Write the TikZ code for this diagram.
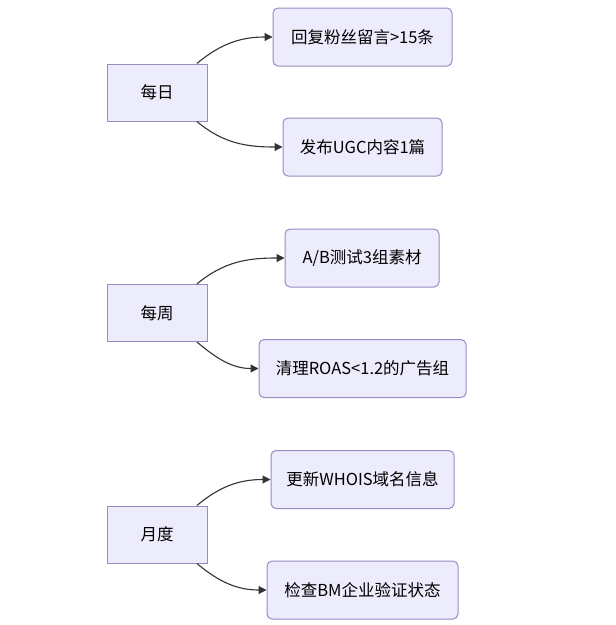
\documentclass[tikz,border=0pt]{standalone}
\usepackage{fontspec}
\setmainfont{Noto Sans CJK SC}
\usetikzlibrary{arrows.meta, positioning}
\definecolor{boxfill}{RGB}{236,236,252}
\definecolor{boxline}{RGB}{150,140,195}
\definecolor{linkcol}{RGB}{51,51,51}

\tikzset{
  period/.style={draw=boxline, fill=boxfill, line width=1pt, minimum width=100pt, minimum height=57pt, font=\fontsize{16.5}{19}\selectfont},
  task/.style={draw=boxline, fill=boxfill, line width=1pt, rounded corners=5pt, minimum height=58pt, inner xsep=2pt, font=\fontsize{16.5}{19}\selectfont},
  link/.style={draw=linkcol, line width=1.1pt, -{Triangle[length=8pt,width=8pt]}}
}

\begin{document}
\begin{tikzpicture}[x=1pt, y=-1pt]
  \useasboundingbox (0,0) rectangle (616,625);
  % daily
  \node[period] (daily) at (157,92.5) {每日};
  \node[task, minimum width=179pt] (reply) at (362.5,37) {回复粉丝留言>15条};
  \node[task, minimum width=159pt] (ugc) at (362.5,147) {发布UGC内容1篇};
  \draw[link] (daily.36) to[out=40, in=180] (reply.west);
  \draw[link] (daily.-36) to[out=-40, in=180] (ugc.west);
  % weekly
  \node[period] (weekly) at (157,313) {每周};
  \node[task, minimum width=154pt] (abtest) at (362,258) {A/B测试3组素材};
  \node[task, minimum width=207pt] (roas) at (362.5,368.5) {清理ROAS<1.2的广告组};
  \draw[link] (weekly.36) to[out=40, in=180] (abtest.west);
  \draw[link] (weekly.-36) to[out=-40, in=180] (roas.west);
  % monthly
  \node[period] (monthly) at (157,534.5) {月度};
  \node[task, minimum width=183pt] (whois) at (362.5,479.5) {更新WHOIS域名信息};
  \node[task, minimum width=191pt] (bmcheck) at (362.5,590) {检查BM企业验证状态};
  \draw[link] (monthly.36) to[out=40, in=180] (whois.west);
  \draw[link] (monthly.-36) to[out=-40, in=180] (bmcheck.west);
\end{tikzpicture}
\end{document}
